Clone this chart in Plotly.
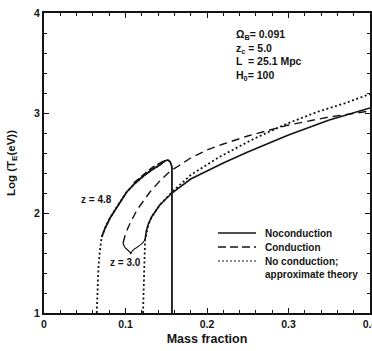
import plotly.graph_objects as go

# --- data ---
solid48_x = [0.0708, 0.075, 0.081, 0.090, 0.1015, 0.112, 0.122, 0.132, 0.142, 0.148, 0.152, 0.155, 0.157, 0.157]
solid48_y = [1.76, 1.85, 1.95, 2.07, 2.21, 2.30, 2.37, 2.43, 2.48, 2.52, 2.53, 2.51, 2.46, 1.0]

dot48_x = [0.0647, 0.0655, 0.0668, 0.0685, 0.0708, 0.075, 0.081, 0.090, 0.1015, 0.112, 0.122, 0.132, 0.142, 0.148, 0.151]
dot48_y = [1.0, 1.25, 1.45, 1.62, 1.76, 1.85, 1.95, 2.07, 2.21, 2.30, 2.37, 2.43, 2.48, 2.52, 2.53]

dash48_x = [0.110, 0.118, 0.126, 0.134, 0.142, 0.149]
dash48_y = [2.30, 2.36, 2.41, 2.46, 2.50, 2.53]

solid3_x = [0.124, 0.1255, 0.128, 0.132, 0.142, 0.157, 0.18, 0.20, 0.22, 0.25, 0.30, 0.35, 0.40]
solid3_y = [1.73, 1.82, 1.89, 1.96, 2.08, 2.20, 2.34, 2.42, 2.50, 2.61, 2.78, 2.93, 3.05]

dash3_x = [0.097, 0.100, 0.104, 0.108, 0.114, 0.122, 0.130, 0.142, 0.155, 0.165, 0.18, 0.20, 0.22, 0.25, 0.30, 0.35, 0.40]
dash3_y = [1.70, 1.79, 1.87, 1.93, 2.03, 2.12, 2.21, 2.32, 2.42, 2.47, 2.55, 2.63, 2.69, 2.77, 2.88, 2.96, 3.02]

dot3_x = [0.1215, 0.1222, 0.1230, 0.124, 0.128, 0.132, 0.142, 0.157, 0.18, 0.215, 0.257, 0.297, 0.335, 0.37, 0.40]
dot3_y = [1.0, 1.3, 1.55, 1.73, 1.88, 1.96, 2.08, 2.21, 2.38, 2.56, 2.74, 2.89, 3.01, 3.10, 3.19]

xtick_vals = [0, 0.1, 0.2, 0.3, 0.4]
xtick_text = ["0", "0.1", "0.2", "0.3", "0.4"]
ytick_vals = [1, 2, 3, 4]
ytick_text = ["1", "2", "3", "4"]

legend_labels = ["Noconduction", "Conduction", "No conduction;<br>approximate theory"]
params_text = "Ω<sub>B</sub>= 0.091<br>z<sub>c</sub> = 5.0<br>L  = 25.1 Mpc<br>H<sub>0</sub>= 100"

INK = "#141414"
FONT = "Liberation Sans"

fig = go.Figure()

def line(x, y, dash, width):
    fig.add_trace(go.Scatter(x=x, y=y, mode="lines", showlegend=False, hoverinfo="skip",
                             line=dict(color=INK, width=width, dash=dash)))

line(solid48_x, solid48_y, "solid", 1.8)
line(dot48_x, dot48_y, "2px,2.5px", 1.8)
line(dash48_x, dash48_y, "7px,3px", 1.6)
line(solid3_x, solid3_y, "solid", 1.6)
line(dash3_x, dash3_y, "8px,5px", 1.4)
line(dot3_x, dot3_y, "2px,2.5px", 1.8)

# brace for z = 3.0 label
fig.add_shape(type="path", xref="x", yref="y",
              path="M 0.097,1.70 C 0.099,1.62 0.105,1.64 0.1065,1.59 C 0.108,1.66 0.117,1.64 0.124,1.73",
              line=dict(color=INK, width=1.2))

fig.add_annotation(x=0.065, y=2.14, xref="x", yref="y", text="z = 4.8", showarrow=False,
                   xanchor="center", font=dict(family=FONT, size=10, color=INK, weight="bold"))
fig.add_annotation(x=0.1, y=1.51, xref="x", yref="y", text="z = 3.0", showarrow=False,
                   xanchor="center", font=dict(family=FONT, size=10, color=INK, weight="bold"))

fig.add_annotation(x=(234 - 44) / 326, y=(313 - 26) / 300, xref="paper", yref="paper",
                   text=params_text, showarrow=False, xanchor="left", yanchor="top", align="left",
                   font=dict(family=FONT, size=10.5, color=INK, weight="bold"))

# legend (manual)
leg_y = [233, 247, 261]
leg_dash = ["solid", "8px,4px", "2px,2px"]
for yy, dsh, lab in zip(leg_y, leg_dash, legend_labels):
    yp = (313 - yy) / 300
    fig.add_shape(type="line", xref="paper", yref="paper",
                  x0=(218 - 44) / 326, x1=(256 - 44) / 326, y0=yp, y1=yp,
                  line=dict(color=INK, width=1.6 if dsh != "2px,2px" else 1.2, dash=dsh))
    fig.add_annotation(x=(263 - 44) / 326, y=yp + (0.022 if "<br>" in lab else 0), xref="paper", yref="paper",
                       text=lab, showarrow=False, xanchor="left",
                       yanchor="top" if "<br>" in lab else "middle", align="left",
                       font=dict(family=FONT, size=10, color=INK, weight="bold"))

axis_common = dict(showline=True, linecolor=INK, linewidth=2, mirror="allticks", ticks="inside",
                   tickcolor=INK, showgrid=False, zeroline=False, ticklabeloverflow="allow",
                   automargin=False,
                   tickfont=dict(family=FONT, size=10.5, color=INK, weight="bold"))

fig.update_xaxes(range=[0, 0.4], tickvals=xtick_vals, ticktext=xtick_text, ticklen=5, tickwidth=1.2,
                 minor=dict(dtick=0.02, tick0=0, ticks="inside", ticklen=3, tickcolor=INK, tickwidth=1),
                 title=dict(text="Mass fraction", standoff=6,
                            font=dict(family=FONT, size=12.5, color=INK, weight="bold")),
                 **axis_common)
fig.update_yaxes(range=[1, 4], tickvals=ytick_vals, ticktext=ytick_text, ticklen=5, tickwidth=1.2,
                 minor=dict(dtick=0.2, tick0=1, ticks="inside", ticklen=3, tickcolor=INK, tickwidth=1),
                 title=dict(text="Log (T<sub>E</sub>(eV))", standoff=16,
                            font=dict(family=FONT, size=11.5, color=INK, weight="bold")),
                 **axis_common)

fig.update_layout(width=372, height=351, margin=dict(l=44, r=2, t=13, b=38),
                  plot_bgcolor="white", paper_bgcolor="white", showlegend=False)

fig.write_html("out.html")
